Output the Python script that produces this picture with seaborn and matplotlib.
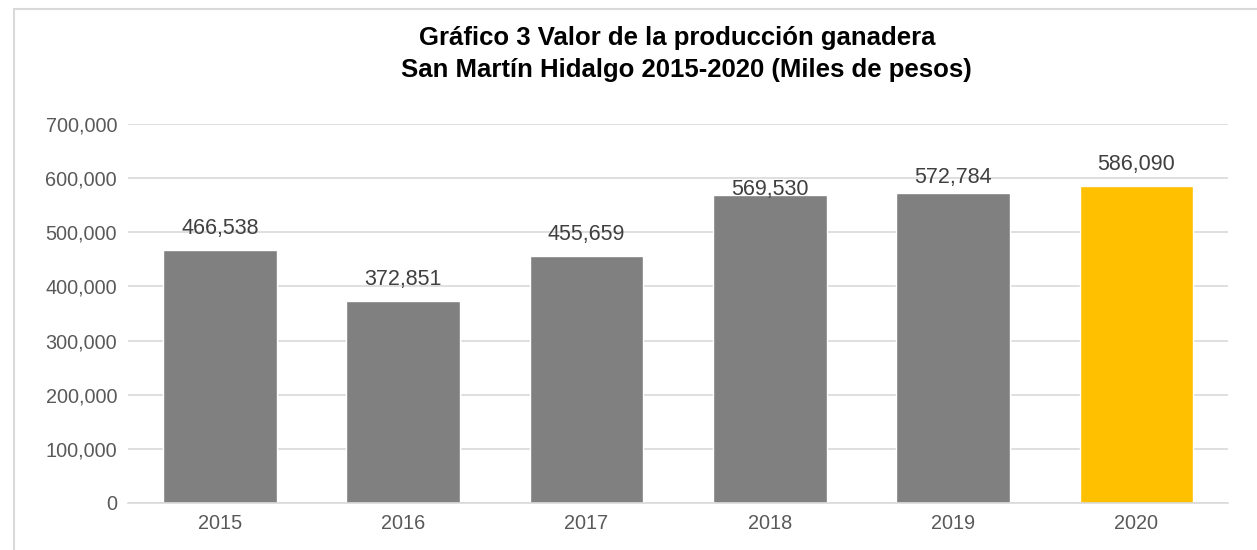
import matplotlib
matplotlib.use("Agg")
import matplotlib.pyplot as plt
import seaborn as sns
import pandas as pd
from matplotlib.patches import Rectangle
from matplotlib.ticker import FuncFormatter

# Valor de la producción ganadera (miles de pesos)
years = ["2015", "2016", "2017", "2018", "2019", "2020"]
values = [466538, 372851, 455659, 569530, 572784, 586090]
bar_colors = ["#808080", "#808080", "#808080", "#808080", "#808080", "#FFC000"]
# separación de cada etiqueta sobre su barra (puntos), como en el original
label_gap = [12, 11.5, 11.5, 0, 7, 11]

df = pd.DataFrame({"Año": years, "Valor": values})

sns.set_theme(style="white")
plt.rcParams["font.family"] = ["Liberation Sans", "DejaVu Sans"]

fig = plt.figure(figsize=(12.57, 5.5), dpi=100)
ax = fig.add_axes([0.102, 0.0855, 0.875, 0.689])

sns.barplot(data=df, x="Año", y="Valor", hue="Año", palette=bar_colors,
            width=0.62, legend=False, ax=ax, saturation=1)

ax.set_ylim(0, 700000)
ax.set_yticks(range(0, 700001, 100000))
ax.yaxis.set_major_formatter(FuncFormatter(lambda v, p: f"{int(v):,}"))
ax.grid(axis="y", color="#D9D9D9", linewidth=1.2)
ax.set_axisbelow(True)
for side in ["top", "right", "left"]:
    ax.spines[side].set_visible(False)
ax.spines["bottom"].set_color("#D9D9D9")
ax.spines["bottom"].set_linewidth(1.2)
ax.tick_params(axis="both", length=0, labelsize=14.3, labelcolor="#595959", pad=8)
ax.set_xlabel("")
ax.set_ylabel("")

# Etiquetas de datos
for i, v in enumerate(values):
    ax.annotate(f"{v:,}", (i, v), xytext=(0, label_gap[i]), textcoords="offset points",
                ha="center", va="baseline", fontsize=15.5, color="#404040")

fig.text(0.539, 0.931, "Gráfico 3 Valor de la producción ganadera",
         ha="center", va="center", fontsize=18.5, fontweight="bold", color="black")
fig.text(0.546, 0.872, "San Martín Hidalgo 2015-2020 (Miles de pesos)",
         ha="center", va="center", fontsize=18.5, fontweight="bold", color="black")

# Borde del área del gráfico
fig.patches.append(Rectangle((14 / 1257, -0.1), 1.2, 1.1 - 9 / 550,
                             transform=fig.transFigure, fill=False,
                             edgecolor="#D9D9D9", linewidth=1.5))

fig.savefig("out.png", dpi=100)
